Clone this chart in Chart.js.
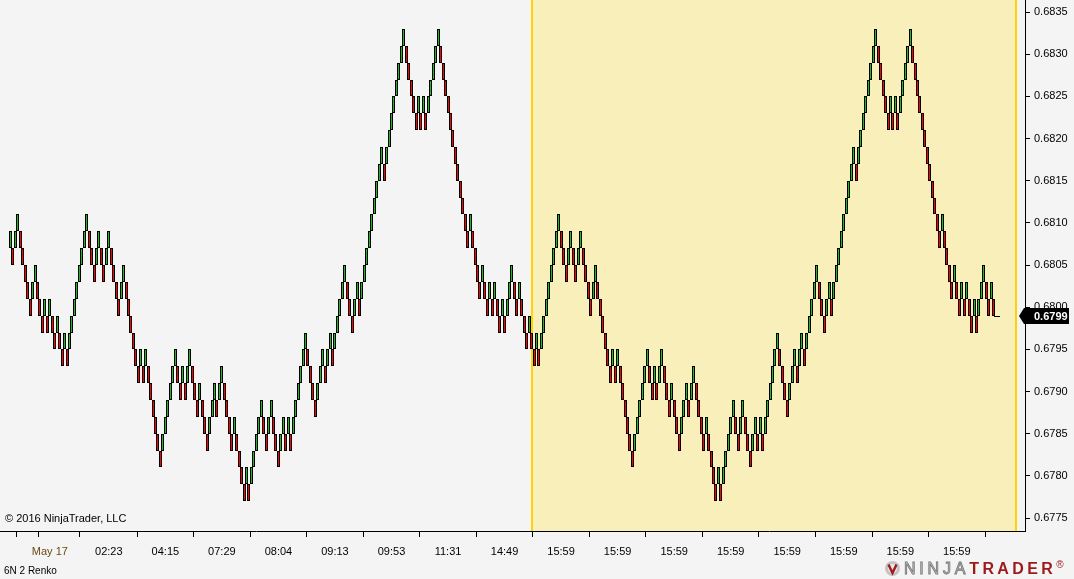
<!DOCTYPE html>
<html>
<head>
<meta charset="utf-8">
<title>6N 2 Renko</title>
<script src="https://cdn.jsdelivr.net/npm/chart.js@4.4.1/dist/chart.umd.min.js"></script>
<style>
  html, body { margin: 0; padding: 0; background: #f4f4f4; }
  #wrap { position: relative; width: 1074px; height: 579px; overflow: hidden;
          font-family: "Liberation Sans", Arial, sans-serif; }
  #chart { position: absolute; left: 0; top: 0; }
  .note { position: absolute; color: #000; white-space: nowrap; }
  #copy { left: 5px; top: 512px; font-size: 11px; }
  #instr { left: 4px; top: 565px; font-size: 10px; }
  #logo { position: absolute; left: 884px; top: 560px; height: 18px; white-space: nowrap;
          font-size: 16px; line-height: 18px; }
  #logo svg { vertical-align: top; margin-right: 3px; }
  #logo .ninja { color: #d8d8d8; -webkit-text-stroke: 0.9px #7a7a7a; letter-spacing: 3.8px; }
  #logo .trader { color: #9c1a1a; font-weight: bold; letter-spacing: 3.4px; }
  #logo sup { color: #9c1a1a; font-size: 10px; vertical-align: top; line-height: 10px; }
</style>
</head>
<body>
<div id="wrap">
  <canvas id="chart" width="1074" height="579"></canvas>
  <div class="note" id="copy">© 2016 NinjaTrader, LLC</div>
  <div class="note" id="instr">6N 2 Renko</div>
  <div id="logo"><svg width="17" height="17" viewBox="0 0 17 17"><circle cx="8.5" cy="8.5" r="7.5" fill="#c4c4c4"/><circle cx="8.5" cy="8.5" r="4.5" fill="#e6e6e6"/><path d="M4.5 4.5 L8.5 13 L12.5 4.5" stroke="#a01818" stroke-width="2.4" fill="none"/></svg><span class="ninja">NINJA</span><span class="trader">TRADER</span><sup>®</sup></div>
</div>
<script>
// ---------- Data (6N, 2 tick renko bricks) ----------
const brickSize = 0.0002;
const firstOpen = 0.6807;
const lastPrice = 0.6799;

// bricks before the highlighted session
const closesA = [
  0.6809, 0.6805, 0.6809, 0.6811, 0.6807, 0.6805, 0.6803, 0.6801, 0.6799, 0.6803,
  0.6805, 0.6801, 0.6799, 0.6797, 0.6801, 0.6797, 0.6801, 0.6797, 0.6795, 0.6799,
  0.6795, 0.6793, 0.6797, 0.6793, 0.6797, 0.6799, 0.6801, 0.6803, 0.6805, 0.6807,
  0.6809, 0.6811, 0.6807, 0.6805, 0.6803, 0.6807, 0.6809, 0.6805, 0.6803, 0.6807,
  0.6809, 0.6805, 0.6803, 0.6801, 0.6799, 0.6803, 0.6805, 0.6801, 0.6799, 0.6797,
  0.6795, 0.6793, 0.6791, 0.6795, 0.6791, 0.6795, 0.6791, 0.6789, 0.6787, 0.6785,
  0.6783, 0.6781, 0.6785, 0.6787, 0.6789, 0.6791, 0.6793, 0.6795, 0.6791, 0.6789,
  0.6793, 0.6789, 0.6793, 0.6795, 0.6791, 0.6789, 0.6787, 0.6791, 0.6787, 0.6785,
  0.6783, 0.6787, 0.6789, 0.6791, 0.6787, 0.6791, 0.6793, 0.6789, 0.6787, 0.6785,
  0.6783, 0.6787, 0.6783, 0.6781, 0.6779, 0.6777, 0.6781, 0.6777, 0.6781, 0.6783,
  0.6785, 0.6787, 0.6789, 0.6785, 0.6783, 0.6787, 0.6789, 0.6785, 0.6783, 0.6781,
  0.6785, 0.6787, 0.6783, 0.6787, 0.6783, 0.6787, 0.6789, 0.6791, 0.6793, 0.6795,
  0.6797, 0.6793, 0.6791, 0.6789, 0.6787, 0.6791, 0.6793, 0.6795, 0.6791, 0.6795,
  0.6797, 0.6793, 0.6797, 0.6799, 0.6801, 0.6803, 0.6805, 0.6801, 0.6799, 0.6797,
  0.6801, 0.6803, 0.6799, 0.6803, 0.6805, 0.6807, 0.6809, 0.6811, 0.6813, 0.6815,
  0.6817, 0.6819, 0.6815, 0.6819, 0.6821, 0.6823, 0.6825, 0.6827, 0.6829, 0.6831,
  0.6833, 0.6829, 0.6827, 0.6825, 0.6823, 0.6821, 0.6825, 0.6821, 0.6825, 0.6821,
  0.6825, 0.6827, 0.6829, 0.6831, 0.6833, 0.6829, 0.6827, 0.6825, 0.6823, 0.6821,
  0.6819, 0.6817, 0.6815, 0.6813, 0.6811, 0.6809, 0.6807, 0.6811, 0.6807, 0.6805,
  0.6803, 0.6801, 0.6805, 0.6801, 0.6799, 0.6803, 0.6799, 0.6803, 0.6799, 0.6797,
  0.6801, 0.6797, 0.6801, 0.6803, 0.6805, 0.6801, 0.6799, 0.6803, 0.6799
];

// bricks in the highlighted session (the replayed stretch)
const closesB = [
                                  0.6797, 0.6795, 0.6799,
  0.6795, 0.6793, 0.6797, 0.6793, 0.6797, 0.6799, 0.6801, 0.6803, 0.6805, 0.6807,
  0.6809, 0.6811, 0.6807, 0.6805, 0.6803, 0.6807, 0.6809, 0.6805, 0.6803, 0.6807,
  0.6809, 0.6805, 0.6803, 0.6801, 0.6799, 0.6803, 0.6805, 0.6801, 0.6799, 0.6797,
  0.6795, 0.6793, 0.6791, 0.6795, 0.6791, 0.6795, 0.6791, 0.6789, 0.6787, 0.6785,
  0.6783, 0.6781, 0.6785, 0.6787, 0.6789, 0.6791, 0.6793, 0.6795, 0.6791, 0.6789,
  0.6793, 0.6789, 0.6793, 0.6795, 0.6791, 0.6789, 0.6787, 0.6791, 0.6787, 0.6785,
  0.6783, 0.6787, 0.6789, 0.6791, 0.6787, 0.6791, 0.6793, 0.6789, 0.6787, 0.6785,
  0.6783, 0.6787, 0.6783, 0.6781, 0.6779, 0.6777, 0.6781, 0.6777, 0.6781, 0.6783,
  0.6785, 0.6787, 0.6789, 0.6785, 0.6783, 0.6787, 0.6789, 0.6785, 0.6783, 0.6781,
  0.6785, 0.6787, 0.6783, 0.6787, 0.6783, 0.6787, 0.6789, 0.6791, 0.6793, 0.6795,
  0.6797, 0.6793, 0.6791, 0.6789, 0.6787, 0.6791, 0.6793, 0.6795, 0.6791, 0.6795,
  0.6797, 0.6793, 0.6797, 0.6799, 0.6801, 0.6803, 0.6805, 0.6801, 0.6799, 0.6797,
  0.6801, 0.6803, 0.6799, 0.6803, 0.6805, 0.6807, 0.6809, 0.6811, 0.6813, 0.6815,
  0.6817, 0.6819, 0.6815, 0.6819, 0.6821, 0.6823, 0.6825, 0.6827, 0.6829, 0.6831,
  0.6833, 0.6829, 0.6827, 0.6825, 0.6823, 0.6821, 0.6825, 0.6821, 0.6825, 0.6821,
  0.6825, 0.6827, 0.6829, 0.6831, 0.6833, 0.6829, 0.6827, 0.6825, 0.6823, 0.6821,
  0.6819, 0.6817, 0.6815, 0.6813, 0.6811, 0.6809, 0.6807, 0.6811, 0.6807, 0.6805,
  0.6803, 0.6801, 0.6805, 0.6801, 0.6799, 0.6803, 0.6799, 0.6803, 0.6799, 0.6797,
  0.6801, 0.6797, 0.6801, 0.6803, 0.6805, 0.6801, 0.6799, 0.6803, 0.6799
];

// time axis (bar index -> label)
const xTickBars   = [7, 16, 40, 63, 86, 109, 132, 155, 178, 201, 224, 247, 270, 293, 316, 339, 362, 385];
const xTickLabels = ['', 'May 17', '02:23', '04:15', '07:29', '08:04', '09:13', '09:53', '11:31', '14:49',
                     '15:59', '15:59', '15:59', '15:59', '15:59', '15:59', '15:59', '15:59'];
const yTicks = [0.6775, 0.6780, 0.6785, 0.6790, 0.6795, 0.6800, 0.6805, 0.6810,
                0.6815, 0.6820, 0.6825, 0.6830, 0.6835];

// ---------- Build bricks ----------
const closes = [...closesA, ...closesB, lastPrice];
const opens = closes.map((c, i) => {
  if (i === 0) return firstOpen;
  if (i === closes.length - 1) return lastPrice;          // forming brick
  return c > closes[i - 1] ? +(c - brickSize).toFixed(4) : +(c + brickSize).toFixed(4);
});
const UP = '#1cbc1c', DOWN = '#ff0000';
const barColors = closes.map((c, i) => c > opens[i] ? UP : (c < opens[i] ? DOWN : '#000'));
const bricks = closes.map((c, i) => ({ x: i, y: [opens[i], c] }));

// ---------- Layout constants ----------
const barPitch = 2.458;           // px per bar
const firstBarPx = 10.5;
const plotWidth = 1025;
const xMin = -firstBarPx / barPitch;
const xMax = xMin + plotWidth / barPitch;
const highlightFrom = 211.8, highlightTo = 409.3;   // bar units

// ---------- Plugins ----------
const sessionShade = {
  id: 'sessionShade',
  beforeDraw(chart) {
    const { ctx, chartArea: a, scales: { x } } = chart;
    const x0 = Math.round(x.getPixelForValue(highlightFrom));
    const x1 = Math.round(x.getPixelForValue(highlightTo));
    ctx.save();
    ctx.fillStyle = '#f8efbb';
    ctx.fillRect(x0, a.top, x1 - x0, a.bottom - a.top);
    ctx.fillStyle = '#ffd200';
    ctx.fillRect(x0, a.top, 2, a.bottom - a.top);
    ctx.fillRect(x1 - 2, a.top, 2, a.bottom - a.top);
    ctx.restore();
  }
};

// keep the narrow bricks crisp
const snapBars = {
  id: 'snapBars',
  beforeDatasetsDraw(chart) {
    chart.getDatasetMeta(0).data.forEach(el => {
      el.x = Math.floor(el.x) + 0.5;
      el.y = Math.round(el.y);
      el.base = Math.round(el.base);
    });
  },
  afterDatasetsDraw(chart) {
    const ctx = chart.ctx;
    chart.getDatasetMeta(0).data.forEach(el => {
      if (Math.abs(el.y - el.base) < 1) {
        ctx.save();
        ctx.fillStyle = '#000';
        ctx.fillRect(el.x - 2.5, el.y, 6, 1);
        ctx.restore();
      }
    });
  }
};

const priceMarker = {
  id: 'priceMarker',
  afterDraw(chart) {
    const { ctx, chartArea: a, scales: { y } } = chart;
    const py = Math.round(y.getPixelForValue(lastPrice));
    const tip = a.right - 6, left = a.right - 1, right = 1069;
    ctx.save();
    ctx.fillStyle = '#000';
    ctx.beginPath();
    ctx.moveTo(tip, py);
    ctx.lineTo(left, py - 8);
    ctx.lineTo(right, py - 8);
    ctx.lineTo(right, py + 8);
    ctx.lineTo(left, py + 8);
    ctx.closePath();
    ctx.fill();
    ctx.fillStyle = '#fff';
    ctx.font = 'bold 11px "Liberation Sans", Arial, sans-serif';
    ctx.textBaseline = 'middle';
    ctx.fillText(lastPrice.toFixed(4), 1034, py + 1);
    ctx.restore();
  }
};

// no extra inset for edge labels: plot runs to the canvas top/left
function noPad(s) {
  s.paddingTop = 0; s.paddingBottom = 0; s.paddingLeft = 0; s.paddingRight = 0;
}

// ---------- Chart ----------
const ctx = document.getElementById('chart').getContext('2d');
new Chart(ctx, {
  type: 'bar',
  data: {
    datasets: [{
      data: bricks,
      backgroundColor: barColors,
      borderColor: '#000',
      borderWidth: 1,
      borderSkipped: false,
      inflateAmount: 0,
      barThickness: 3
    }]
  },
  options: {
    responsive: false,
    animation: false,
    devicePixelRatio: 1,
    layout: { padding: 0 },
    plugins: { legend: { display: false }, tooltip: { enabled: false } },
    scales: {
      x: {
        type: 'linear',
        min: xMin,
        max: xMax,
        offset: false,
        afterBuildTicks: s => { s.ticks = xTickBars.map(v => ({ value: v })); },
        afterFit: s => { s.height = 48; noPad(s); },
        grid: { drawOnChartArea: false, drawTicks: true, tickLength: 6, color: '#000', lineWidth: 1 },
        border: { display: true, color: '#000', width: 1 },
        ticks: {
          autoSkip: false,
          maxRotation: 0,
          padding: 8,
          font: { family: '"Liberation Sans", Arial, sans-serif', size: 11 },
          color: c => (c.tick && c.tick.label === 'May 17') ? '#6a4814' : '#000',
          callback: (v, i) => xTickLabels[i]
        }
      },
      y: {
        type: 'linear',
        position: 'right',
        min: 0.677347,
        max: 0.683643,
        afterBuildTicks: s => { s.ticks = yTicks.map(v => ({ value: v })); },
        afterFit: s => { s.width = 49; noPad(s); },
        grid: { drawOnChartArea: false, drawTicks: true, tickLength: 5, color: '#000', lineWidth: 1 },
        border: { display: true, color: '#000', width: 1 },
        ticks: {
          padding: 4,
          font: { family: '"Liberation Sans", Arial, sans-serif', size: 11 },
          color: '#000',
          callback: v => v.toFixed(4)
        }
      }
    }
  },
  plugins: [sessionShade, snapBars, priceMarker]
});
</script>
</body>
</html>
